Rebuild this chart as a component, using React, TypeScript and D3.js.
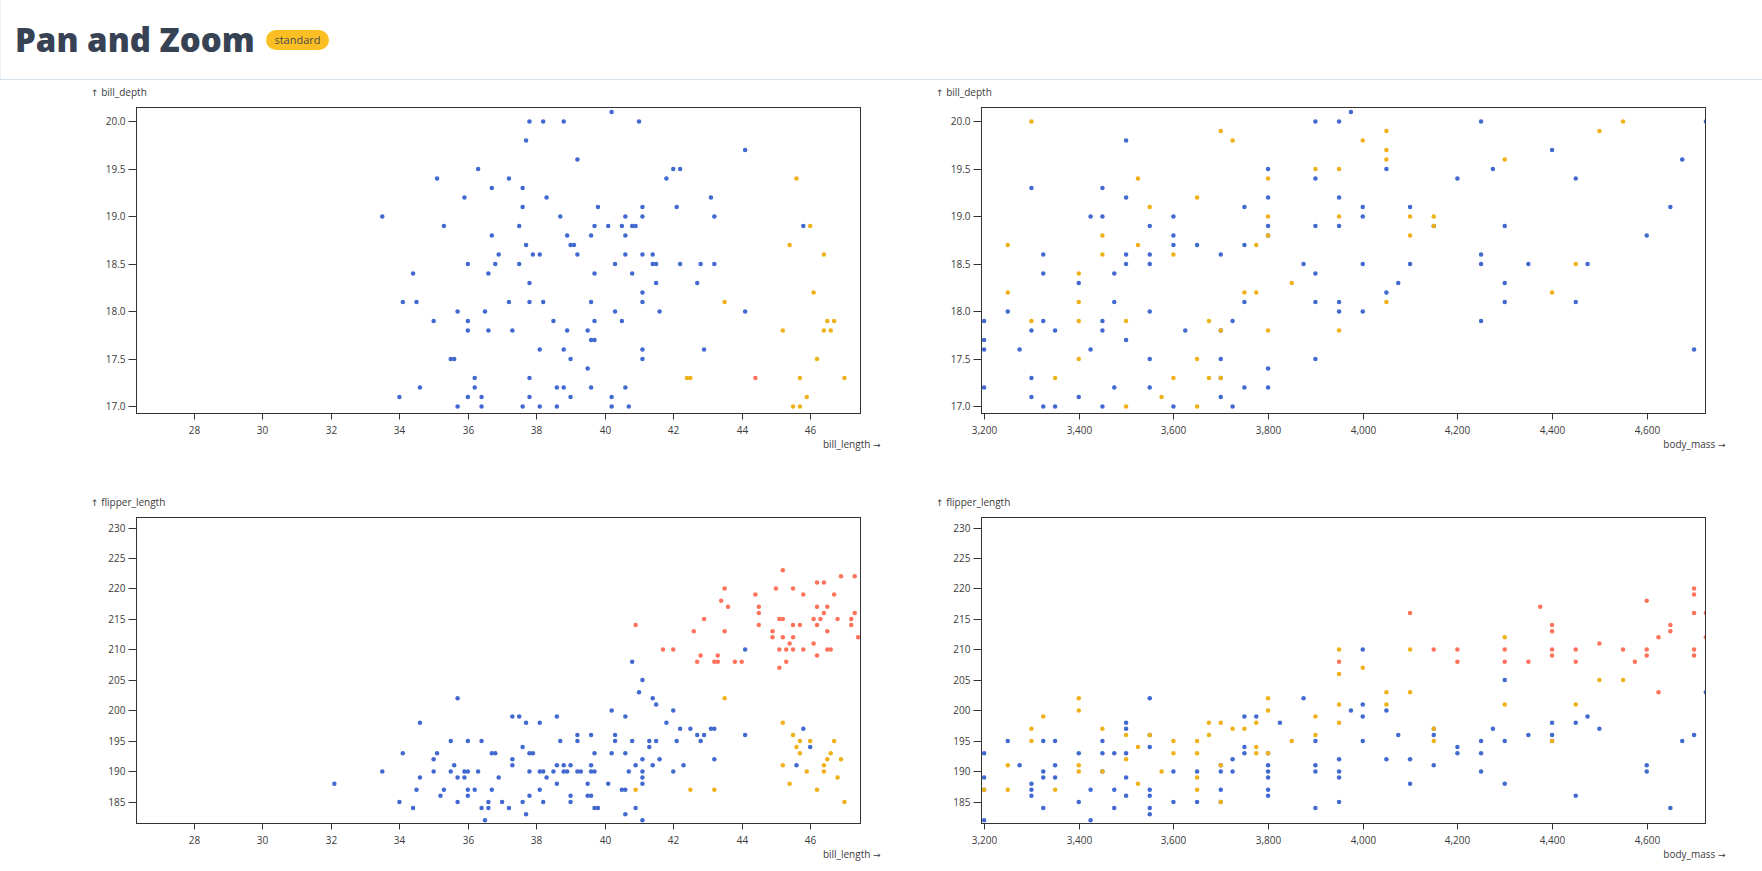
import React from "react";
import * as d3 from "d3";

type Pt = [number, number];

// tick values
const billLengthTicks = [28, 30, 32, 34, 36, 38, 40, 42, 44, 46];
const billDepthTicks = [17, 17.5, 18, 18.5, 19, 19.5, 20];
const bodyMassTicks = [3200, 3400, 3600, 3800, 4000, 4200, 4400, 4600];
const flipperTicks = [185, 190, 195, 200, 205, 210, 215, 220, 225, 230];

// current (panned / zoomed) view of each variable
const billLengthView: Pt = [26.32, 47.47];
const billDepthView: Pt = [16.926, 20.147];
const bodyMassView: Pt = [3194.5, 4724.2];
const flipperView: Pt = [181.47, 231.64];

const species = ["Adelie", "Chinstrap", "Gentoo"];
const speciesColors = ["#4269d0", "#efb118", "#ff725c"];

// bill_length x bill_depth
const lenDepthAdelie: Pt[] = [
  [33.5, 19.0], [35.1, 19.4], [36.3, 19.5], [36.7, 19.3], [35.9, 19.2], [35.3, 18.9], [36.7, 18.8], [36.9, 18.6],
  [36.0, 18.5], [36.8, 18.5], [34.4, 18.4], [36.6, 18.4], [34.1, 18.1], [34.5, 18.1], [35.7, 18.0], [36.5, 18.0],
  [35.0, 17.9], [36.0, 17.9], [36.0, 17.8], [36.6, 17.8], [35.5, 17.5], [35.6, 17.5], [36.2, 17.3], [36.2, 17.2],
  [34.6, 17.2], [34.0, 17.1], [36.0, 17.1], [36.4, 17.1], [35.7, 17.0], [36.4, 17.0],
  [40.2, 20.1], [37.8, 20.0], [38.2, 20.0], [38.8, 20.0], [41.0, 20.0], [37.7, 19.8], [44.1, 19.7], [39.2, 19.6],
  [42.0, 19.5], [42.2, 19.5], [37.2, 19.4], [41.8, 19.4], [37.6, 19.3], [38.3, 19.2], [43.1, 19.2], [37.6, 19.1],
  [39.8, 19.1], [41.1, 19.1], [42.1, 19.1], [38.7, 19.0], [40.6, 19.0], [41.1, 19.0], [43.2, 19.0], [37.5, 18.9],
  [39.7, 18.9], [40.1, 18.9], [40.5, 18.9], [40.8, 18.9], [40.9, 18.9], [45.8, 18.9], [38.9, 18.8], [39.6, 18.8],
  [40.6, 18.8], [37.7, 18.7], [39.0, 18.7], [39.1, 18.7], [37.9, 18.6], [38.1, 18.6], [39.2, 18.6], [40.6, 18.6],
  [41.1, 18.6], [41.4, 18.6], [37.5, 18.5], [40.3, 18.5], [41.4, 18.5], [41.5, 18.5], [42.2, 18.5], [42.8, 18.5],
  [43.2, 18.5], [39.7, 18.4], [40.8, 18.4], [37.8, 18.3], [41.5, 18.3], [42.7, 18.3], [41.1, 18.2], [37.2, 18.1],
  [37.8, 18.1], [38.2, 18.1], [39.6, 18.1], [41.1, 18.1], [40.3, 18.0], [41.6, 18.0], [44.1, 18.0], [38.5, 17.9],
  [39.7, 17.9], [40.5, 17.9], [37.3, 17.8], [38.9, 17.8], [39.5, 17.8], [39.6, 17.7], [39.7, 17.7], [38.1, 17.6],
  [38.8, 17.6], [41.1, 17.6], [42.9, 17.6], [39.0, 17.5], [41.1, 17.5], [39.5, 17.4], [37.8, 17.3], [38.6, 17.2],
  [38.8, 17.2], [39.6, 17.2], [40.6, 17.2], [37.8, 17.1], [39.0, 17.1], [40.2, 17.1], [37.6, 17.0], [38.1, 17.0],
  [38.6, 17.0], [40.2, 17.0], [40.7, 17.0],
];
const lenDepthChinstrap: Pt[] = [
  [45.6, 19.4], [46.0, 18.9], [45.4, 18.7], [46.4, 18.6], [46.1, 18.2], [43.5, 18.1], [46.5, 17.9], [46.7, 17.9],
  [45.2, 17.8], [46.4, 17.8], [46.6, 17.8], [46.2, 17.5], [42.4, 17.3], [42.5, 17.3], [45.7, 17.3], [47.0, 17.3],
  [45.9, 17.1], [45.5, 17.0], [45.7, 17.0],
];
const lenDepthGentoo: Pt[] = [[44.4, 17.3]];

// body_mass x bill_depth
const massDepthAdelie: Pt[] = [
  [3200, 17.9], [3200, 17.7], [3200, 17.6], [3200, 17.2], [3250, 18.0], [3275, 17.6], [3300, 19.3], [3300, 17.8],
  [3300, 17.3], [3300, 17.1], [3325, 18.6], [3325, 18.4], [3325, 17.9], [3325, 17.0], [3350, 17.8], [3350, 17.0],
  [3400, 18.3], [3400, 17.1], [3425, 19.0], [3425, 17.6], [3450, 19.3], [3450, 19.0], [3450, 17.9], [3450, 17.8],
  [3450, 17.0], [3475, 18.4], [3475, 18.1], [3475, 17.2], [3500, 19.8], [3500, 19.2], [3500, 18.6], [3500, 18.5],
  [3500, 17.7], [3550, 18.9], [3550, 18.6], [3550, 18.5], [3550, 18.0], [3550, 17.5], [3550, 17.2], [3600, 19.0],
  [3600, 18.8], [3600, 18.7], [3600, 17.0], [3625, 17.8], [3650, 18.7], [3700, 18.6], [3700, 17.8], [3700, 17.5],
  [3700, 17.3], [3700, 17.1], [3725, 17.9], [3725, 17.0], [3750, 19.1], [3750, 18.7], [3750, 18.1], [3750, 17.2],
  [3800, 19.5], [3800, 19.2], [3800, 18.9], [3800, 18.8], [3800, 17.4], [3800, 17.2], [3875, 18.5], [3900, 20.0],
  [3900, 19.4], [3900, 18.9], [3900, 18.4], [3900, 18.1], [3900, 17.5], [3950, 20.0], [3950, 19.2], [3950, 18.9],
  [3950, 18.1], [3950, 18.0], [3975, 20.1], [4000, 19.1], [4000, 19.0], [4000, 18.5], [4000, 18.0], [4050, 19.5],
  [4050, 18.2], [4075, 18.3], [4100, 19.1], [4100, 18.5], [4150, 18.9], [4200, 19.4], [4250, 20.0], [4250, 18.6],
  [4250, 18.5], [4250, 17.9], [4275, 19.5], [4300, 18.9], [4300, 18.3], [4300, 18.1], [4350, 18.5], [4400, 19.7],
  [4450, 19.4], [4450, 18.1], [4475, 18.5], [4600, 18.8], [4650, 19.1], [4675, 19.6], [4700, 17.6], [4725, 20.0],
];
const massDepthChinstrap: Pt[] = [
  [3250, 18.7], [3250, 18.2], [3300, 20.0], [3300, 17.9], [3350, 17.3], [3400, 18.4], [3400, 18.1], [3400, 17.9],
  [3400, 17.5], [3450, 18.8], [3450, 18.6], [3500, 17.9], [3500, 17.0], [3525, 19.4], [3525, 18.7], [3550, 19.1],
  [3575, 17.1], [3600, 18.6], [3600, 17.3], [3650, 19.2], [3650, 17.5], [3650, 17.0], [3675, 17.9], [3675, 17.3],
  [3700, 19.9], [3700, 17.8], [3700, 17.3], [3725, 19.8], [3750, 18.2], [3775, 18.7], [3775, 18.2], [3800, 19.4],
  [3800, 19.0], [3800, 18.8], [3800, 17.8], [3850, 18.3], [3900, 19.5], [3950, 19.5], [3950, 19.0], [3950, 17.8],
  [4000, 19.8], [4050, 19.9], [4050, 19.7], [4050, 19.6], [4050, 18.1], [4100, 19.0], [4100, 18.8], [4150, 19.0],
  [4150, 18.9], [4300, 19.6], [4400, 18.2], [4450, 18.5], [4500, 19.9], [4550, 20.0],
];
const massDepthGentoo: Pt[] = [];

// bill_length x flipper_length
const lenFlipperAdelie: Pt[] = [
  [32.1, 188], [33.5, 190], [34.0, 185], [34.1, 193], [34.4, 184], [34.5, 187], [34.6, 198], [34.6, 189],
  [35.0, 192], [35.1, 193], [35.0, 190], [35.2, 186], [35.3, 187], [35.5, 195], [35.5, 190], [35.6, 191],
  [35.7, 202], [35.7, 189], [35.7, 185], [35.9, 190], [35.9, 189], [36.0, 195], [36.0, 190], [36.0, 187],
  [36.0, 186], [36.2, 187], [36.3, 190], [36.4, 195], [36.4, 184], [36.5, 182], [36.6, 185], [36.6, 184],
  [36.7, 193], [36.8, 193], [36.7, 187], [36.9, 189],
  [37.3, 199], [37.5, 199], [37.7, 198], [38.1, 198], [38.6, 199], [37.6, 194], [37.8, 193], [37.9, 193],
  [37.3, 192], [37.3, 191], [37.8, 190], [38.1, 190], [38.2, 190], [38.3, 189], [38.5, 190], [38.6, 191],
  [38.8, 191], [39.0, 191], [38.8, 190], [38.9, 190], [38.7, 195], [39.2, 196], [39.2, 195], [39.2, 190],
  [39.3, 190], [39.6, 196], [39.7, 193], [39.6, 191], [39.6, 190], [39.7, 190], [39.5, 188], [38.6, 188],
  [38.1, 187], [37.8, 186], [37.0, 185], [37.6, 185], [38.2, 185], [37.2, 184], [37.7, 183], [39.0, 186],
  [39.0, 185], [39.5, 186], [39.6, 186], [39.7, 184], [39.8, 184], [40.1, 188], [40.2, 200], [40.3, 196],
  [40.3, 195], [40.2, 193], [40.6, 199], [40.6, 193], [40.5, 187], [40.6, 187], [40.6, 183], [40.7, 190],
  [40.8, 208], [40.8, 195], [40.9, 191], [40.9, 184], [41.0, 203], [41.1, 205], [41.1, 192], [41.1, 190],
  [41.1, 189], [41.1, 188], [41.1, 182], [41.3, 195], [41.3, 194], [41.4, 202], [41.4, 191], [41.5, 201],
  [41.5, 195], [41.6, 192], [41.8, 198], [42.0, 200], [42.0, 190], [42.1, 195], [42.2, 197], [42.3, 191],
  [42.5, 197], [42.7, 196], [42.8, 195], [42.9, 196], [43.1, 197], [43.2, 197], [43.2, 192], [44.1, 210],
  [44.1, 196], [45.8, 197], [46.0, 194], [45.6, 191],
];
const lenFlipperChinstrap: Pt[] = [
  [40.9, 187], [42.5, 187], [43.2, 187], [43.5, 202], [45.2, 198], [45.5, 196], [45.7, 195], [45.6, 194],
  [45.7, 193], [46.0, 195], [45.2, 191], [45.9, 190], [45.4, 188], [46.2, 187], [46.4, 191], [46.4, 190],
  [46.5, 192], [46.6, 193], [46.7, 195], [46.9, 192], [46.8, 189], [47.0, 185],
];
const lenFlipperGentoo: Pt[] = [
  [40.9, 214], [41.7, 210], [42.0, 210], [42.6, 213], [42.9, 215], [42.7, 208], [42.8, 209], [43.2, 208],
  [43.3, 208], [43.3, 209], [43.4, 218], [43.5, 220], [43.6, 217], [43.5, 213], [43.8, 208], [44.0, 208],
  [44.4, 219], [44.5, 217], [44.5, 216], [44.5, 214], [44.9, 213], [44.9, 212], [45.0, 220], [45.2, 223],
  [45.1, 215], [45.2, 215], [45.2, 212], [45.1, 210], [45.1, 207], [45.3, 210], [45.3, 208], [45.4, 211],
  [45.5, 220], [45.5, 214], [45.5, 212], [45.5, 210], [45.7, 214], [45.8, 219], [45.8, 210], [46.1, 215],
  [46.1, 211], [46.2, 221], [46.2, 217], [46.2, 214], [46.2, 209], [46.3, 215], [46.4, 221], [46.4, 216],
  [46.5, 217], [46.5, 213], [46.5, 210], [46.6, 210], [46.7, 219], [46.8, 215], [46.9, 222], [47.2, 215],
  [47.2, 214], [47.3, 222], [47.3, 216], [47.4, 212],
];

// body_mass x flipper_length
const massFlipperAdelie: Pt[] = [
  [3200, 193], [3200, 189], [3200, 187], [3200, 182], [3250, 195], [3275, 191], [3300, 188], [3300, 187],
  [3300, 186], [3325, 195], [3325, 190], [3325, 189], [3325, 184], [3350, 195], [3350, 191], [3350, 189],
  [3400, 193], [3400, 185], [3425, 187], [3425, 182], [3450, 195], [3450, 193], [3450, 190], [3475, 193],
  [3475, 187], [3475, 184], [3500, 198], [3500, 197], [3500, 193], [3500, 189], [3500, 186], [3550, 202],
  [3550, 196], [3550, 194], [3550, 187], [3550, 186], [3550, 184], [3550, 183], [3600, 190], [3600, 185],
  [3650, 190], [3650, 185], [3700, 191], [3700, 190], [3700, 187], [3700, 185], [3725, 192], [3725, 190],
  [3750, 199], [3750, 194], [3750, 193], [3775, 199], [3800, 193], [3800, 191], [3800, 190], [3800, 189],
  [3800, 187], [3800, 186], [3825, 198], [3875, 202], [3900, 195], [3900, 191], [3900, 190], [3900, 184],
  [3950, 192], [3950, 190], [3950, 189], [3950, 185], [3975, 200], [4000, 210], [4000, 201], [4000, 199],
  [4000, 195], [4050, 200], [4050, 192], [4075, 196], [4100, 192], [4100, 188], [4150, 197], [4150, 196],
  [4150, 191], [4200, 194], [4200, 193], [4250, 195], [4250, 193], [4250, 190], [4275, 197], [4300, 205],
  [4300, 195], [4300, 188], [4350, 196], [4400, 198], [4400, 196], [4400, 195], [4450, 198], [4450, 186],
  [4475, 199], [4500, 197], [4600, 191], [4600, 190], [4650, 184], [4675, 195], [4700, 196], [4725, 203],
];
const massFlipperChinstrap: Pt[] = [
  [3200, 187], [3250, 191], [3250, 187], [3300, 197], [3300, 195], [3325, 199], [3350, 187], [3400, 202],
  [3400, 200], [3400, 191], [3400, 190], [3450, 197], [3450, 190], [3500, 196], [3500, 192], [3525, 194],
  [3525, 188], [3550, 196], [3575, 190], [3600, 195], [3600, 193], [3650, 195], [3650, 193], [3650, 189],
  [3650, 187], [3675, 198], [3675, 196], [3700, 198], [3700, 191], [3700, 185], [3725, 197], [3750, 197],
  [3775, 198], [3775, 194], [3775, 193], [3800, 202], [3800, 200], [3800, 193], [3850, 195], [3900, 199],
  [3900, 196], [3950, 210], [3950, 206], [3950, 201], [3950, 198], [4000, 207], [4050, 203], [4050, 201],
  [4100, 210], [4100, 203], [4150, 197], [4150, 195], [4300, 212], [4300, 201], [4400, 195], [4450, 201],
  [4500, 205], [4550, 205],
];
const massFlipperGentoo: Pt[] = [
  [3950, 208], [4100, 216], [4150, 210], [4200, 210], [4200, 208], [4300, 210], [4300, 208], [4350, 208],
  [4375, 217], [4400, 214], [4400, 213], [4400, 210], [4400, 209], [4450, 210], [4450, 208], [4500, 211],
  [4550, 210], [4575, 208], [4600, 218], [4600, 210], [4600, 209], [4625, 212], [4625, 203], [4650, 214],
  [4650, 213], [4700, 220], [4700, 219], [4700, 216], [4700, 210], [4700, 209], [4725, 216], [4725, 212],
];

const W = 1762;
const H = 871;
const font = "'Open Sans', 'Noto Sans', sans-serif";
const arrowFont = "'DejaVu Sans', sans-serif";
const ink = "#3b3b3b";

interface PanelProps {
  id: string;
  left: number;
  top: number;
  width: number;
  height: number;
  xView: Pt;
  yView: Pt;
  xTicks: number[];
  yTicks: number[];
  xFormat: (v: number) => string;
  yFormat: (v: number) => string;
  xLabel: string;
  yLabel: string;
  groups: Pt[][];
}

function Panel(p: PanelProps) {
  const x = d3.scaleLinear().domain(p.xView).range([p.left, p.left + p.width]);
  const y = d3.scaleLinear().domain(p.yView).range([p.top + p.height, p.top]);
  const bottom = p.top + p.height;
  const right = p.left + p.width;

  return (
    <g fontFamily={font} fontSize={10} fill={ink}>
      <defs>
        <clipPath id={p.id}>
          <rect x={p.left} y={p.top} width={p.width} height={p.height} />
        </clipPath>
      </defs>
      <g clipPath={`url(#${p.id})`}>
        {p.groups.map((pts, gi) =>
          pts.map((d, i) => (
            <circle key={`${gi}-${i}`} cx={x(d[0])} cy={y(d[1])} r={2.25} fill={speciesColors[gi]} />
          ))
        )}
      </g>
      <rect x={p.left} y={p.top} width={p.width} height={p.height} fill="none" stroke="#333" strokeWidth={1} />
      {p.yTicks.map((t) => (
        <g key={`y${t}`} transform={`translate(0,${Math.round(y(t)) + 0.5})`}>
          <line x1={p.left - 8} x2={p.left} stroke="#333" />
          <text x={p.left - 11} dy="0.32em" textAnchor="end">
            {p.yFormat(t)}
          </text>
        </g>
      ))}
      {p.xTicks.map((t) => (
        <g key={`x${t}`} transform={`translate(${Math.round(x(t)) + 0.5},0)`}>
          <line y1={bottom} y2={bottom + 6} stroke="#333" />
          <text y={bottom + 20} textAnchor="middle">
            {p.xFormat(t)}
          </text>
        </g>
      ))}
      <text x={p.left - 45.5} y={p.top - 12}>
        <tspan fontFamily={arrowFont} fontSize={9}>↑</tspan>
        {` ${p.yLabel}`}
      </text>
      <text x={right + 20} y={bottom + 34} textAnchor="end">
        {`${p.xLabel} `}
        <tspan fontFamily={arrowFont} fontSize={9}>→</tspan>
      </text>
    </g>
  );
}

export default function App() {
  const fmtInt = d3.format("d");
  const fmtDepth = d3.format(".1f");
  const fmtMass = d3.format(",");

  const colL = 136.5;
  const colR = 981.5;
  const rowT = 107.5;
  const rowB = 517.5;
  const pw = 724;
  const ph = 306;

  return (
    <svg width={W} height={H} style={{ position: "absolute", left: 0, top: 0, display: "block", background: "#fff" }}>
      <line x1={0.5} x2={0.5} y1={0} y2={79} stroke="#eef1f4" />
      <text x={15} y={52} fontFamily={font} fontSize={33} fontWeight={800} fill="#374254">
        Pan and Zoom
      </text>
      <rect x={266} y={30} width={63} height={20} rx={10} fill="#fbbf24" />
      <text x={297.5} y={44} textAnchor="middle" fontFamily={font} fontSize={11} fill="#4a4a4a">
        standard
      </text>
      <line x1={0} x2={W} y1={79.5} y2={79.5} stroke="#d5e0e8" />

      <Panel
        id="p1"
        left={colL}
        top={rowT}
        width={pw}
        height={ph}
        xView={billLengthView}
        yView={billDepthView}
        xTicks={billLengthTicks}
        yTicks={billDepthTicks}
        xFormat={fmtInt}
        yFormat={fmtDepth}
        xLabel="bill_length"
        yLabel="bill_depth"
        groups={[lenDepthAdelie, lenDepthChinstrap, lenDepthGentoo]}
      />
      <Panel
        id="p2"
        left={colR}
        top={rowT}
        width={pw}
        height={ph}
        xView={bodyMassView}
        yView={billDepthView}
        xTicks={bodyMassTicks}
        yTicks={billDepthTicks}
        xFormat={fmtMass}
        yFormat={fmtDepth}
        xLabel="body_mass"
        yLabel="bill_depth"
        groups={[massDepthAdelie, massDepthChinstrap, massDepthGentoo]}
      />
      <Panel
        id="p3"
        left={colL}
        top={rowB}
        width={pw}
        height={ph}
        xView={billLengthView}
        yView={flipperView}
        xTicks={billLengthTicks}
        yTicks={flipperTicks}
        xFormat={fmtInt}
        yFormat={fmtInt}
        xLabel="bill_length"
        yLabel="flipper_length"
        groups={[lenFlipperAdelie, lenFlipperChinstrap, lenFlipperGentoo]}
      />
      <Panel
        id="p4"
        left={colR}
        top={rowB}
        width={pw}
        height={ph}
        xView={bodyMassView}
        yView={flipperView}
        xTicks={bodyMassTicks}
        yTicks={flipperTicks}
        xFormat={fmtMass}
        yFormat={fmtInt}
        xLabel="body_mass"
        yLabel="flipper_length"
        groups={[massFlipperAdelie, massFlipperChinstrap, massFlipperGentoo]}
      />
    </svg>
  );
}
